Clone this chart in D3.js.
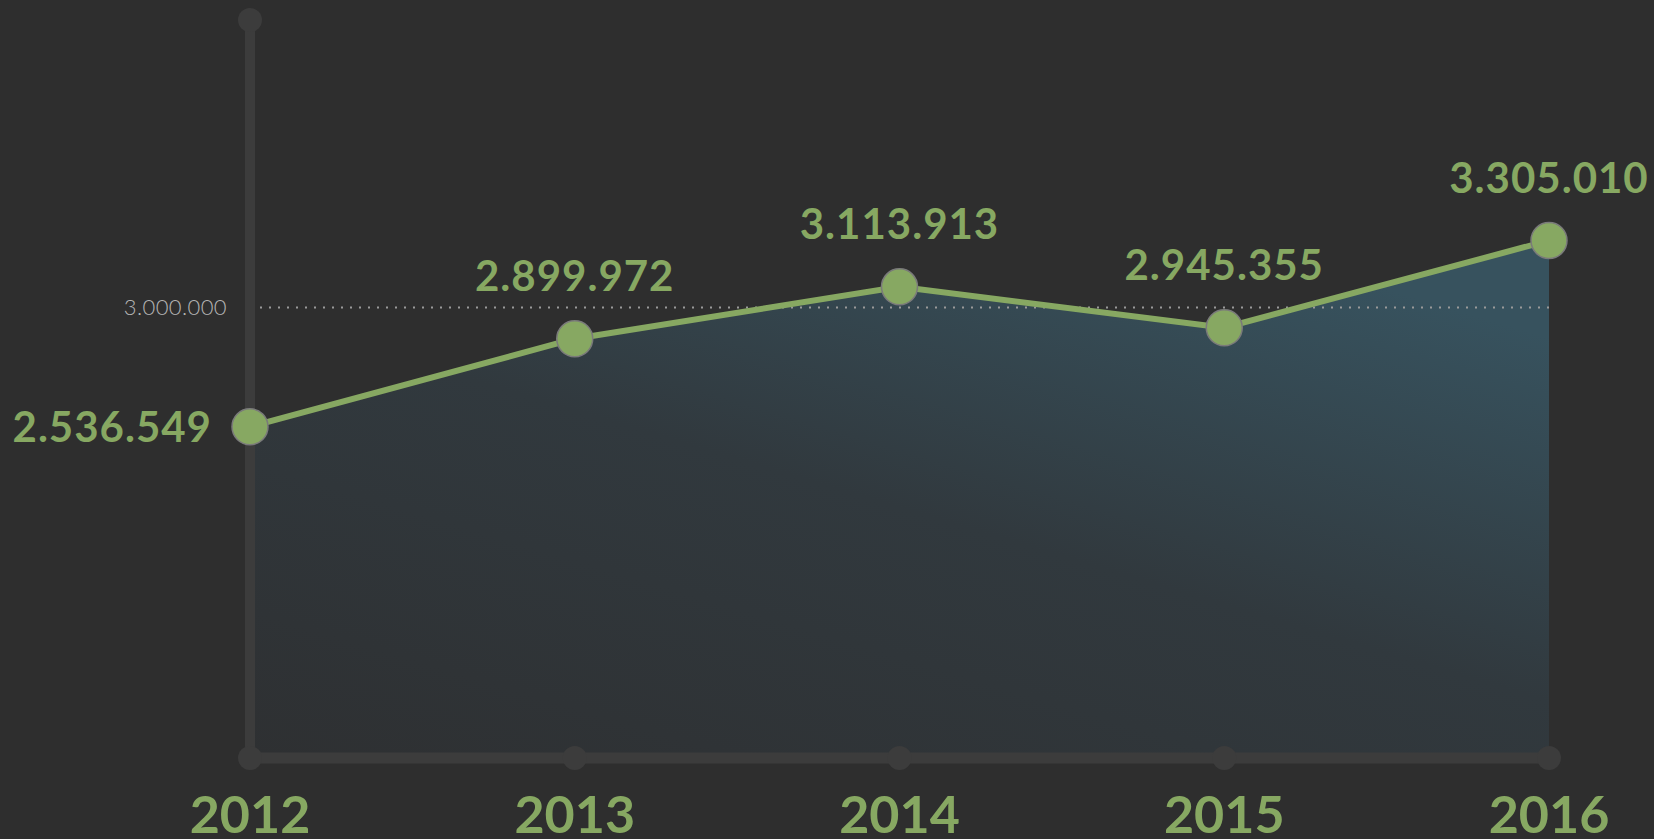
<!DOCTYPE html>
<html>
<head>
<meta charset="utf-8">
<script src="https://cdn.jsdelivr.net/npm/d3@7"></script>
<style>
  html, body { margin: 0; padding: 0; background: #2e2e2e; }
  svg { display: block; }
</style>
</head>
<body>
<svg id="chart"></svg>
<script>
// Data
const years = ['2012', '2013', '2014', '2015', '2016'];
const values = [2536549, 2899972, 3113913, 2945355, 3305010];
const valueLabels = ['2.536.549', '2.899.972', '3.113.913', '2.945.355', '3.305.010'];
const refValue = 3000000;
const refLabel = '3.000.000';

const width = 1654;
const height = 839;

const green = '#87a862';
const axisColor = '#3c3c3c';

let svg = d3.select('#chart')
    .attr('width', width)
    .attr('height', height);

// Scales
let x = d3.scalePoint()
    .domain(years)
    .range([250, 1549]);

let y = d3.scaleLinear()
    .domain([1170000, 4215000])
    .range([758, 20]);

let points = years.map((yr, i) => ({ year: yr, value: values[i], label: valueLabels[i] }));

// Gradient for the area
let defs = svg.append('defs');
let grad = defs.append('linearGradient')
    .attr('id', 'areaGrad')
    .attr('x1', 0).attr('y1', 1)
    .attr('x2', 0.75).attr('y2', 0);
grad.append('stop').attr('offset', 0).attr('stop-color', '#2e3032');
grad.append('stop').attr('offset', 0.55).attr('stop-color', '#31393e');
grad.append('stop').attr('offset', 1).attr('stop-color', '#37525e');

// Area under the line
let area = d3.area()
    .x(d => x(d.year))
    .y0(y.range()[0])
    .y1(d => y(d.value));

svg.append('path')
    .datum(points)
    .attr('d', area)
    .attr('fill', 'url(#areaGrad)');

// Reference dotted line
const refY = y(refValue) - 7;
svg.append('line')
    .attr('x1', x(years[0]) + 10)
    .attr('x2', x(years[years.length - 1]))
    .attr('y1', refY)
    .attr('y2', refY)
    .attr('stroke', '#9a9a9a')
    .attr('stroke-width', 2)
    .attr('stroke-dasharray', '2,7');

svg.append('text')
    .attr('x', 227)
    .attr('y', refY)
    .attr('dy', '0.36em')
    .attr('text-anchor', 'end')
    .attr('fill', '#b4b4b4')
    .style('font-family', 'Lato, sans-serif')
    .style('font-weight', 300)
    .style('font-size', '22px')
    .style('letter-spacing', '0.4px')
    .text(refLabel);

// Axes
let axes = svg.append('g');
axes.append('line')
    .attr('x1', x(years[0])).attr('x2', x(years[0]))
    .attr('y1', y.range()[1]).attr('y2', y.range()[0])
    .attr('stroke', axisColor)
    .attr('stroke-width', 10);
axes.append('line')
    .attr('x1', x(years[0])).attr('x2', x(years[years.length - 1]))
    .attr('y1', y.range()[0]).attr('y2', y.range()[0])
    .attr('stroke', axisColor)
    .attr('stroke-width', 11);
axes.append('circle')
    .attr('cx', x(years[0]))
    .attr('cy', y.range()[1])
    .attr('r', 12)
    .attr('fill', axisColor);
axes.selectAll('.tick-dot')
    .data(years)
    .enter()
    .append('circle')
    .attr('class', 'tick-dot')
    .attr('cx', d => x(d))
    .attr('cy', y.range()[0])
    .attr('r', 12)
    .attr('fill', axisColor);

// Year labels
svg.selectAll('.year')
    .data(years)
    .enter()
    .append('text')
    .attr('class', 'year')
    .attr('x', d => x(d))
    .attr('y', 833)
    .attr('text-anchor', 'middle')
    .attr('fill', green)
    .style('font-family', 'Lato, sans-serif')
    .style('font-weight', 700)
    .style('font-size', '52px')
    .text(d => d);

// Line
let line = d3.line()
    .x(d => x(d.year))
    .y(d => y(d.value));

svg.append('path')
    .datum(points)
    .attr('d', line)
    .attr('fill', 'none')
    .attr('stroke', green)
    .attr('stroke-width', 6);

// Points
svg.selectAll('.pt')
    .data(points)
    .enter()
    .append('circle')
    .attr('class', 'pt')
    .attr('cx', d => x(d.year))
    .attr('cy', d => y(d.value))
    .attr('r', 18)
    .attr('fill', green)
    .attr('stroke', '#7a7a7a')
    .attr('stroke-width', 1.5);

// Value labels
svg.selectAll('.val')
    .data(points)
    .enter()
    .append('text')
    .attr('class', 'val')
    .attr('x', (d, i) => i === 0 ? x(d.year) - 38 : x(d.year))
    .attr('y', (d, i) => i === 0 ? y(d.value) : y(d.value) - 48)
    .attr('dy', (d, i) => i === 0 ? '0.36em' : 0)
    .attr('text-anchor', (d, i) => i === 0 ? 'end' : 'middle')
    .attr('fill', green)
    .style('font-family', 'Lato, sans-serif')
    .style('font-weight', 700)
    .style('font-size', '42px')
    .style('letter-spacing', '1px')
    .text(d => d.label);
</script>
</body>
</html>
